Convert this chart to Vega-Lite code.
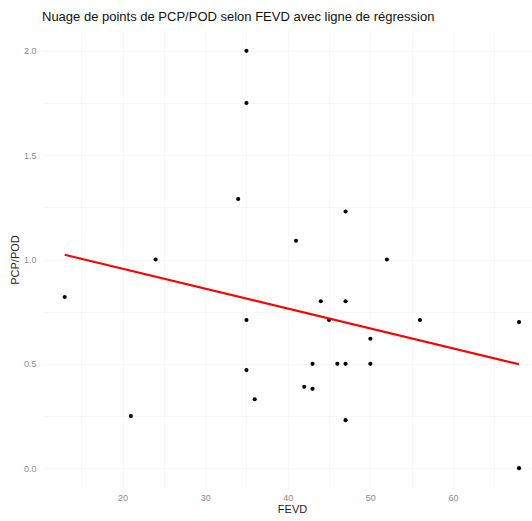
{
  "$schema": "https://vega.github.io/schema/vega-lite/v6.json",
  "width": 490,
  "height": 459,
  "autosize": {"type": "none"},
  "padding": {"left": 42, "top": 30, "right": 0, "bottom": 32},
  "background": "white",
  "title": {
    "text": "Nuage de points de PCP/POD selon FEVD avec ligne de régression",
    "anchor": "start",
    "frame": "group",
    "font": "Liberation Sans",
    "fontSize": 13,
    "fontWeight": "normal",
    "color": "#111111",
    "offset": 6
  },
  "config": {
    "view": {"stroke": null},
    "font": "Liberation Sans",
    "axis": {
      "domain": false,
      "ticks": false,
      "gridColor": "#f7f7f7",
      "gridWidth": 1,
      "labelFont": "Liberation Sans",
      "labelFontSize": 9,
      "labelColor": "#8a8a8a",
      "titleFont": "Liberation Sans",
      "titleFontSize": 11,
      "titleFontWeight": "normal",
      "titleColor": "#222222"
    }
  },
  "data": {
    "values": [
      {"FEVD": 13, "PCP_POD": 0.82},
      {"FEVD": 21, "PCP_POD": 0.25},
      {"FEVD": 24, "PCP_POD": 1.0},
      {"FEVD": 34, "PCP_POD": 1.29},
      {"FEVD": 35, "PCP_POD": 2.0},
      {"FEVD": 35, "PCP_POD": 1.75},
      {"FEVD": 35, "PCP_POD": 0.71},
      {"FEVD": 35, "PCP_POD": 0.47},
      {"FEVD": 36, "PCP_POD": 0.33},
      {"FEVD": 41, "PCP_POD": 1.09},
      {"FEVD": 47, "PCP_POD": 1.23},
      {"FEVD": 44, "PCP_POD": 0.8},
      {"FEVD": 47, "PCP_POD": 0.8},
      {"FEVD": 45, "PCP_POD": 0.71},
      {"FEVD": 50, "PCP_POD": 0.62},
      {"FEVD": 43, "PCP_POD": 0.5},
      {"FEVD": 46, "PCP_POD": 0.5},
      {"FEVD": 47, "PCP_POD": 0.5},
      {"FEVD": 50, "PCP_POD": 0.5},
      {"FEVD": 42, "PCP_POD": 0.39},
      {"FEVD": 43, "PCP_POD": 0.38},
      {"FEVD": 47, "PCP_POD": 0.23},
      {"FEVD": 52, "PCP_POD": 1.0},
      {"FEVD": 56, "PCP_POD": 0.71},
      {"FEVD": 68, "PCP_POD": 0.7},
      {"FEVD": 68, "PCP_POD": 0.0}
    ]
  },
  "layer": [
    {
      "mark": {"type": "circle", "size": 17, "color": "#000000", "opacity": 1},
      "encoding": {
        "x": {
          "field": "FEVD",
          "type": "quantitative",
          "scale": {"domain": [10.25, 69.57], "nice": false, "zero": false},
          "axis": {
            "title": "FEVD",
            "values": [15, 20, 25, 30, 35, 40, 45, 50, 55, 60, 65],
            "labelExpr": "datum.value % 10 === 0 ? datum.label : ''",
            "format": "d",
            "labelPadding": 4,
            "titlePadding": 1,
            "titleX": 250
          }
        },
        "y": {
          "field": "PCP_POD",
          "type": "quantitative",
          "scale": {"domain": [-0.1, 2.1], "nice": false, "zero": false},
          "axis": {
            "title": "PCP/POD",
            "values": [0, 0.25, 0.5, 0.75, 1, 1.25, 1.5, 1.75, 2],
            "labelExpr": "(datum.value * 2) % 1 === 0 ? datum.label : ''",
            "format": ".1f",
            "labelPadding": 6,
            "titlePadding": 3
          }
        }
      }
    },
    {
      "transform": [{"regression": "PCP_POD", "on": "FEVD"}],
      "mark": {"type": "line", "color": "#ff0000", "strokeWidth": 2},
      "encoding": {
        "x": {"field": "FEVD", "type": "quantitative"},
        "y": {"field": "PCP_POD", "type": "quantitative"}
      }
    }
  ]
}
